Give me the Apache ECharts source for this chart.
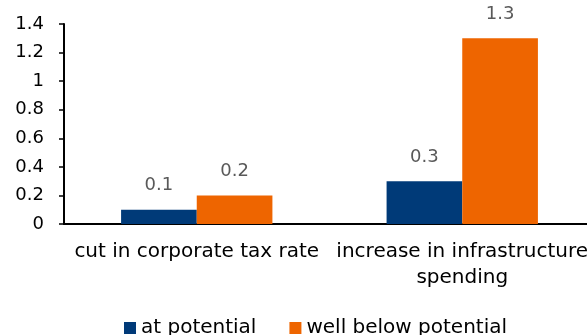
<!DOCTYPE html>
<html><head><meta charset="utf-8">
<script src="https://cdn.jsdelivr.net/npm/echarts@6/dist/echarts.min.js"></script>
<style>html,body{margin:0;padding:0;background:#fff}#c{width:587px;height:335px}</style>
</head><body><div id="c"></div>
<script>
const categories = ['cut in corporate tax rate', 'increase in infrastructure\nspending'];
const atPotential = [0.1, 0.3];
const wellBelowPotential = [0.2, 1.3];
const seriesNames = ['at potential', 'well below potential'];
const yTicks = { min: 0, max: 1.4, interval: 0.2 };
const FONT = 'DejaVu Sans';
const chart = echarts.init(document.getElementById('c'), null, {renderer: 'canvas'});
chart.setOption({
  animation: false,
  textStyle: {fontFamily: FONT},
  grid: {left: 64, top: 24, width: 531, height: 200, containLabel: false, outerBoundsMode: 'none'},
  legend: {
    bottom: -8, left: 119, itemWidth: 12, itemHeight: 12, itemGap: 33,
    icon: 'rect',
    textStyle: {fontFamily: FONT, fontSize: 20, color: '#000', padding: [0, 0, 0, 0]},
    data: seriesNames
  },
  xAxis: {
    type: 'category', data: categories,
    axisLine: {lineStyle: {color: '#000', width: 2}},
    axisTick: {show: false},
    axisLabel: {color: '#000', fontSize: 20, margin: 15, lineHeight: 26, interval: 0, fontFamily: FONT}
  },
  yAxis: {
    type: 'value', min: yTicks.min, max: yTicks.max, interval: yTicks.interval,
    axisLine: {show: true, lineStyle: {color: '#000', width: 2}},
    axisTick: {show: true, length: 5, lineStyle: {color: '#000', width: 1.5}},
    splitLine: {show: false},
    axisLabel: {color: '#000', fontSize: 18, margin: 20, fontFamily: FONT,
      formatter: v => String(Math.round(v * 10) / 10)}
  },
  series: [
    {name: seriesNames[0], type: 'bar', data: atPotential, barGap: '0%', barCategoryGap: '43%',
     itemStyle: {color: '#003a78'},
     label: {show: true, position: 'top', distance: 15, color: '#595959', fontSize: 18, fontFamily: FONT}},
    {name: seriesNames[1], type: 'bar', data: wellBelowPotential, barGap: '0%', barCategoryGap: '43%',
     itemStyle: {color: '#ee6500'},
     label: {show: true, position: 'top', distance: 15, color: '#595959', fontSize: 18, fontFamily: FONT}}
  ]
});
</script></body></html>
